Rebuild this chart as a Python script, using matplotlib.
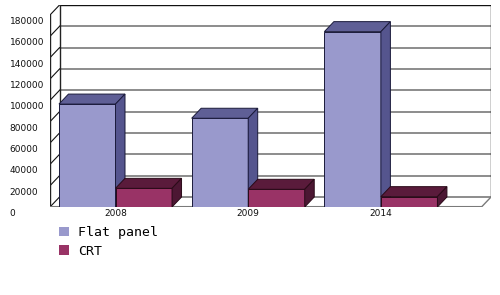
import matplotlib
matplotlib.use("Agg")
import matplotlib.pyplot as plt
from matplotlib.patches import Polygon, Patch
from matplotlib.transforms import ScaledTranslation, blended_transform_factory

categories = ["2008", "2009", "2014"]
flat_panel = [96500, 83200, 164400]
crt = [17500, 16600, 9700]
series_names = ["Flat panel", "CRT"]
y_ticks = [0, 20000, 40000, 60000, 80000, 100000, 120000, 140000, 160000, 180000]

W, H, DPI = 500, 295, 100
fig = plt.figure(figsize=(W / DPI, H / DPI), dpi=DPI)
fig.patch.set_facecolor("white")

# axes covers from front-left floor corner to back-right top corner
ax = fig.add_axes([50 / W, (H - 207) / H, 441 / W, 202 / H])
ax.set_axis_off()

ymax = 180000
dy = 9375          # depth offset in value units (~10 px)
dx = 0.0716        # depth offset in category units (~9.5 px)
bar_w = 0.426
ax.set_xlim(-0.4936, 2.8297)
ax.set_ylim(0, ymax + dy)

x_left_front = -0.4936
x_left_back = x_left_front + dx
x_right_back = 2.8297
x_right_front = x_right_back - dx

# back wall
ax.add_patch(Polygon([(x_left_back, dy), (x_right_back, dy), (x_right_back, ymax + dy),
                      (x_left_back, ymax + dy)], closed=True, facecolor="white",
                     edgecolor="none", zorder=0))
# gridlines on back wall and side-wall diagonals
for v in y_ticks:
    if v in (0, ymax):
        continue
    ax.plot([x_left_back, x_right_back], [v + dy, v + dy], color="#6e6e6e", lw=1.1, zorder=1)
for v in y_ticks:
    ax.plot([x_left_front, x_left_back], [v, v + dy], color="#111111", lw=0.8, zorder=1)
# wall outlines
ax.plot([x_left_back, x_right_back, x_right_back], [ymax + dy, ymax + dy, dy],
        color="#111111", lw=1.0, zorder=1)
ax.plot([x_left_back, x_left_back], [dy, ymax + dy], color="#222222", lw=1.0, zorder=1)
ax.plot([x_left_front, x_left_front], [0, ymax], color="#222222", lw=1.0, zorder=1)
# floor
ax.plot([x_left_back, x_right_back], [dy, dy], color="#6e6e6e", lw=1.1, zorder=1)
ax.plot([x_left_front, x_right_front], [0, 0], color="#7a7a7a", lw=1.5, zorder=1)
ax.plot([x_right_front, x_right_back], [0, dy], color="#7a7a7a", lw=1.0, zorder=1)

styles = [
    dict(front="#9999cc", top="#5f5f96", side="#55558e", edge="#1a1a3a"),
    dict(front="#993366", top="#5a1b3b", side="#4c1733", edge="#2a0a18"),
]

def draw_bar(x0, v, st):
    x1 = x0 + bar_w
    ax.add_patch(Polygon([(x0, 0), (x1, 0), (x1, v), (x0, v)], closed=True,
                         facecolor=st["front"], edgecolor=st["edge"], lw=0.7, zorder=3))
    ax.add_patch(Polygon([(x0, v), (x1, v), (x1 + dx, v + dy), (x0 + dx, v + dy)], closed=True,
                         facecolor=st["top"], edgecolor=st["edge"], lw=0.7, zorder=3))
    ax.add_patch(Polygon([(x1, 0), (x1 + dx, dy), (x1 + dx, v + dy), (x1, v)], closed=True,
                         facecolor=st["side"], edgecolor=st["edge"], lw=0.7, zorder=3))

for i in range(len(categories)):
    draw_bar(i - bar_w, flat_panel[i], styles[0])
    draw_bar(i, crt[i], styles[1])

# category labels
off_cat = ax.transData + ScaledTranslation(0, -6 / DPI, fig.dpi_scale_trans)
for i, c in enumerate(categories):
    ax.text(i, 0, c, transform=off_cat, ha="center", va="center", fontsize=6.5,
            family="DejaVu Sans", color="#111111", clip_on=False)

# value labels (left aligned near the figure edge)
bt = blended_transform_factory(fig.transFigure, ax.transData)
off_val = bt + ScaledTranslation(0, -6.5 / DPI, fig.dpi_scale_trans)
for v in y_ticks:
    ax.text(9.5 / W, v, str(v), transform=off_val, ha="left", va="center", fontsize=6.5,
            family="DejaVu Sans", color="#111111", clip_on=False)

handles = [Patch(facecolor=styles[0]["front"], edgecolor="none"),
           Patch(facecolor=styles[1]["front"], edgecolor="none")]
fig.legend(handles, series_names, loc="upper left", bbox_to_anchor=(59 / W, 1 - 226 / H),
           frameon=False, prop={"family": "DejaVu Sans Mono", "size": 9.5},
           handlelength=0.76, handleheight=0.76, handletextpad=0.7, labelspacing=0.45,
           borderpad=0, borderaxespad=0)

fig.savefig("out.png", dpi=DPI)
